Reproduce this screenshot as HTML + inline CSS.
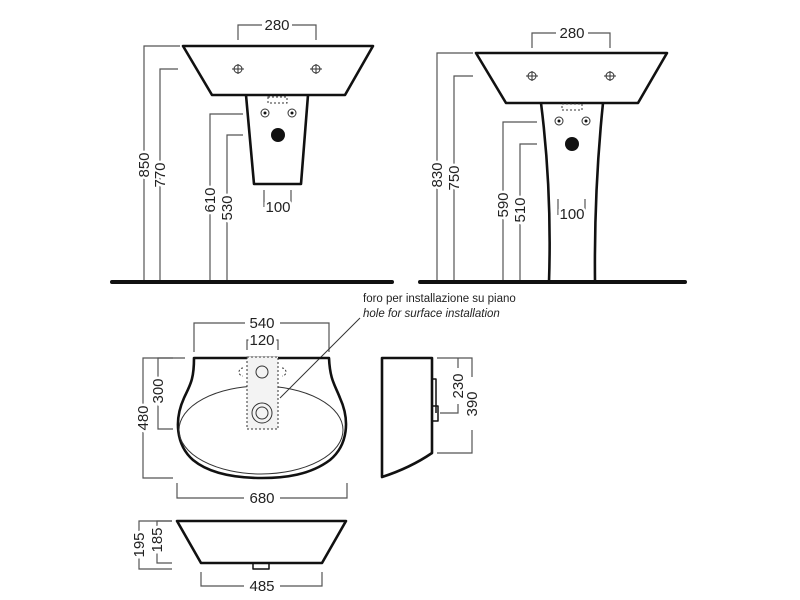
<!DOCTYPE html>
<html><head><style>
html,body{margin:0;padding:0;background:#fff;}
svg{display:block;}
text{font-family:"Liberation Sans",sans-serif;fill:#222;}
.d text{stroke:#fff;stroke-width:5;paint-order:stroke;}
</style></head><body>
<svg width="800" height="600" viewBox="0 0 800 600" xmlns="http://www.w3.org/2000/svg">
<g fill="none" stroke="#555" stroke-width="1.2">
<path d="M238,40 V25 H262 M292,25 H316 V40"/>
<path d="M180,46 H144 V282 M178,69 H160 V282"/>
<path d="M243,114 H210 V282 M243,135 H227 V282"/>
<path d="M264,190 V207 M291,190 V207"/>
<path d="M532,48 V33 H556 M588,33 H610 V48"/>
<path d="M473,53 H437 V282 M473,76 H454 V282"/>
<path d="M537,122 H503 V282 M537,144 H520 V282"/>
<path d="M558,199 V215 M585,199 V215"/>
<path d="M194,352 V323 H245 M280,323 H329 V352"/>
<path d="M247,350 V340 H251 M274,340 H278 V350"/>
<path d="M185,358 H143 V405 M143,432 V478 H173"/>
<path d="M173,429 H158 V402 M158,380 V358 H173"/>
<path d="M177,483 V498 H244 M280,498 H347 V483"/>
<path d="M437,358 H472 V377 M472,430 V453 H437"/>
<path d="M440,413 H458 V404 M458,368 V358"/>
<path d="M172,521 H139 V532 M139,557 V569 H172"/>
<path d="M172,521 H157 V528 M157,550 V563 H172"/>
<path d="M201,572 V586 H244 M280,586 H322 V572"/>
<path d="M360,318 L280,398" stroke="#333" stroke-width="1"/>
</g>
<line x1="112" y1="282" x2="392" y2="282" stroke="#111" stroke-width="4" stroke-linecap="round"/>
<line x1="420" y1="282" x2="685" y2="282" stroke="#111" stroke-width="4" stroke-linecap="round"/>
<g fill="none" stroke="#111" stroke-width="2.6" stroke-linejoin="round">
<path d="M183,46 H373 L345,95 H212 Z"/>
<path d="M246,95 L254,184 H301 L308,95"/>
<path d="M476,53 H667 L638,103 H506 Z"/>
<path d="M541,103 Q552,190 549,282 M603,103 Q594,190 595,282"/>
<path d="M194,358 L329,358 C330,380 335,385 340,398 C350,420 348,445 330,460 C310,475 285,478 262,478 C235,478 210,474 193,460 C176,445 174,420 184,398 C190,385 194,380 194,358 Z"/>
<path d="M382,358 H432 V453 Q410,468 382,477 Z"/>
<path d="M432,379 H436 V413 M432,406 H438 V421 H432" stroke-width="1.5"/>
<path d="M177,521 H346 L322,563 H201 Z"/>
<path d="M253,563 V569 H269 V563" stroke-width="1.5"/>
</g>
<g fill="none" stroke="#333" stroke-width="1">
<ellipse cx="261" cy="430" rx="82" ry="44"/>
<rect x="247" y="357" width="31" height="72" stroke-dasharray="2,2" fill="#f3f3f3"/>
<circle cx="262" cy="372" r="6"/>
<circle cx="262" cy="413" r="10"/>
<circle cx="262" cy="413" r="6"/>
<path d="M243,368 a4,4 0 1 0 0,8 M282,368 a4,4 0 1 1 0,8" stroke-dasharray="2,2"/>
<rect x="268" y="97" width="19" height="6" stroke-dasharray="2,2"/>
<rect x="562" y="104" width="20" height="6" stroke-dasharray="2,2"/>
<circle cx="238" cy="69" r="4"/><path d="M232,69 H244 M238,64 V74"/>
<circle cx="316" cy="69" r="4"/><path d="M310,69 H322 M316,64 V74"/>
<circle cx="532" cy="76" r="4"/><path d="M526,76 H538 M532,71 V81"/>
<circle cx="610" cy="76" r="4"/><path d="M604,76 H616 M610,71 V81"/>
<circle cx="265" cy="113" r="4"/><circle cx="292" cy="113" r="4"/>
<circle cx="559" cy="121" r="4"/><circle cx="586" cy="121" r="4"/>
</g>
<g fill="#111">
<circle cx="278" cy="135" r="7"/><circle cx="572" cy="144" r="7"/>
<circle cx="265" cy="113" r="1.5"/><circle cx="292" cy="113" r="1.5"/>
<circle cx="559" cy="121" r="1.5"/><circle cx="586" cy="121" r="1.5"/>
</g>
<g class="d" font-size="15" text-anchor="middle">
<text x="277" y="30">280</text>
<text x="572" y="38">280</text>
<text x="278" y="212">100</text>
<text x="572" y="219">100</text>
<text transform="translate(149,165) rotate(-90)">850</text>
<text transform="translate(165,175) rotate(-90)">770</text>
<text transform="translate(215,200) rotate(-90)">610</text>
<text transform="translate(232,208) rotate(-90)">530</text>
<text transform="translate(442,175) rotate(-90)">830</text>
<text transform="translate(459,178) rotate(-90)">750</text>
<text transform="translate(508,205) rotate(-90)">590</text>
<text transform="translate(525,210) rotate(-90)">510</text>
<text x="262" y="328">540</text>
<text x="262" y="345">120</text>
<text x="262" y="503">680</text>
<text x="262" y="591">485</text>
<text transform="translate(148,418) rotate(-90)">480</text>
<text transform="translate(163,391) rotate(-90)">300</text>
<text transform="translate(463,386) rotate(-90)">230</text>
<text transform="translate(477,404) rotate(-90)">390</text>
<text transform="translate(144,545) rotate(-90)">195</text>
<text transform="translate(162,540) rotate(-90)">185</text>
</g>
<text x="363" y="302" font-size="11.5">foro per installazione su piano</text>
<text x="363" y="317" font-size="11.5" font-style="italic">hole for surface installation</text>
</svg>
</body></html>
